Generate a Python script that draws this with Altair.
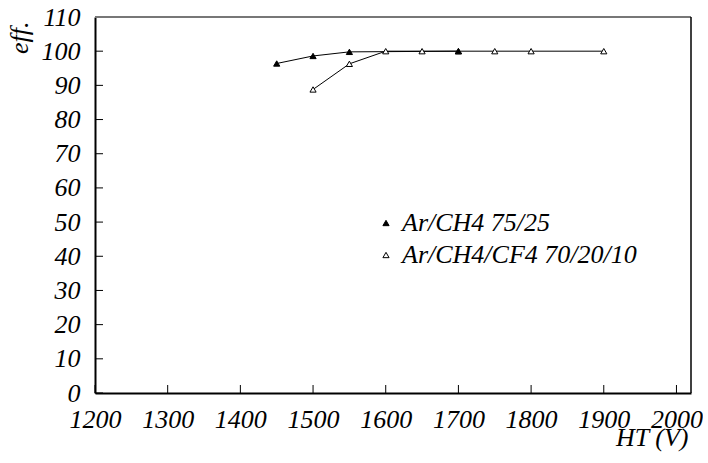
import altair as alt
import pandas as pd

# Data
s1_name = "Ar/CH4 75/25"
s1_x = [1450, 1500, 1550, 1700]
s1_y = [96.4, 98.6, 99.8, 100.0]

s2_name = "Ar/CH4/CF4 70/20/10"
s2_x = [1500, 1550, 1600, 1650, 1700, 1750, 1800, 1900]
s2_y = [88.8, 96.3, 100.0, 100.0, 100.0, 100.0, 100.0, 100.0]

x_ticks = [1200, 1300, 1400, 1500, 1600, 1700, 1800, 1900, 2000]
y_ticks = [0, 10, 20, 30, 40, 50, 60, 70, 80, 90, 100, 110]

df = pd.DataFrame(
    {"ht": s1_x + s2_x,
     "eff": s1_y + s2_y,
     "series": [s1_name] * len(s1_x) + [s2_name] * len(s2_x),
     "order": [1] * len(s1_x) + [0] * len(s2_x)}
)
xt = pd.DataFrame({"ht": x_ticks})
yt = pd.DataFrame({"eff": y_ticks})

FONT = "Times New Roman, Liberation Serif, Tinos, DejaVu Serif, serif"
W, H = 596, 376

xscale = alt.Scale(domain=[1200, 2020], nice=False, zero=False)
yscale = alt.Scale(domain=[0, 110], nice=False)

x_axis = alt.Axis(
    values=x_ticks, ticks=False, grid=False, domainColor="black", domainWidth=2,
    format="d", labelOverlap=False,
    labelFont=FONT, labelFontStyle="italic", labelFontSize=26, labelColor="black",
    labelBaseline="alphabetic", labelPadding=34, labelFlush=False,
    title="HT (V)", titleFont=FONT, titleFontStyle="italic", titleFontWeight="normal",
    titleFontSize=26, titleColor="black", titleX=593, titleY=52,
    titleAlign="right", titleBaseline="alphabetic")
y_axis = alt.Axis(
    values=y_ticks, ticks=False, grid=False, domainColor="black", domainWidth=2,
    format="d", labelOverlap=False,
    labelFont=FONT, labelFontStyle="italic", labelFontSize=26, labelColor="black",
    labelPadding=15, labelFlush=False, labelBaseline="middle",
    title="eff.", titleFont=FONT, titleFontStyle="italic", titleFontWeight="normal",
    titleFontSize=26, titleColor="black", titleAngle=-90, titleX=-68, titleY=4,
    titleAlign="right", titleBaseline="alphabetic")

x_enc = alt.X("ht:Q", scale=xscale, axis=x_axis)
y_enc = alt.Y("eff:Q", scale=yscale, axis=y_axis)

leg = alt.Legend(
    title=None, orient="none", legendX=278, legendY=193,
    labelFont=FONT, labelFontStyle="italic", labelFontSize=26, labelColor="black",
    labelOffset=3, rowPadding=6, symbolSize=38,
    symbolStrokeWidth=1, labelLimit=400)

doms = [s1_name, s2_name]
shape_scale = alt.Scale(domain=doms, range=["triangle-up", "triangle-up"])
fill_scale = alt.Scale(domain=doms, range=["black", "white"])
stroke_scale = alt.Scale(domain=doms, range=["black", "black"])

lines = alt.Chart(df).mark_line(color="black", strokeWidth=1).encode(
    x=x_enc, y=y_enc, detail="series:N", order=alt.Order("ht:Q"))

pts = alt.Chart(df).mark_point(size=38, opacity=1, strokeWidth=1, filled=True).encode(
    x=x_enc, y=y_enc,
    shape=alt.Shape("series:N", scale=shape_scale, legend=leg),
    fill=alt.Fill("series:N", scale=fill_scale, legend=leg),
    stroke=alt.Stroke("series:N", scale=stroke_scale, legend=leg),
    order=alt.Order("order:Q"))

xticks = alt.Chart(xt).mark_rule(color="black", strokeWidth=1).encode(
    x=x_enc, y=alt.value(H), y2=alt.value(H - 8))
yticks = alt.Chart(yt).mark_rule(color="black", strokeWidth=1).encode(
    y=y_enc, x=alt.value(0), x2=alt.value(8))
top = alt.Chart(pd.DataFrame({"eff": [110]})).mark_rule(color="#777777", strokeWidth=2).encode(
    y=y_enc, x=alt.value(0), x2=alt.value(W))
right = alt.Chart(pd.DataFrame({"ht": [2020]})).mark_rule(color="black", strokeWidth=1.5).encode(
    x=x_enc, y=alt.value(0), y2=alt.value(H))

chart = alt.layer(lines, xticks, yticks, top, right, pts).properties(
    width=W, height=H,
    autosize=alt.AutoSizeParams(type="none"),
    padding={"left": 95, "top": 17, "right": 12, "bottom": 70},
    background="white",
).configure(font=FONT).configure_view(stroke=None)

chart.save("out.html", embed_options={"renderer": "svg", "actions": False})
